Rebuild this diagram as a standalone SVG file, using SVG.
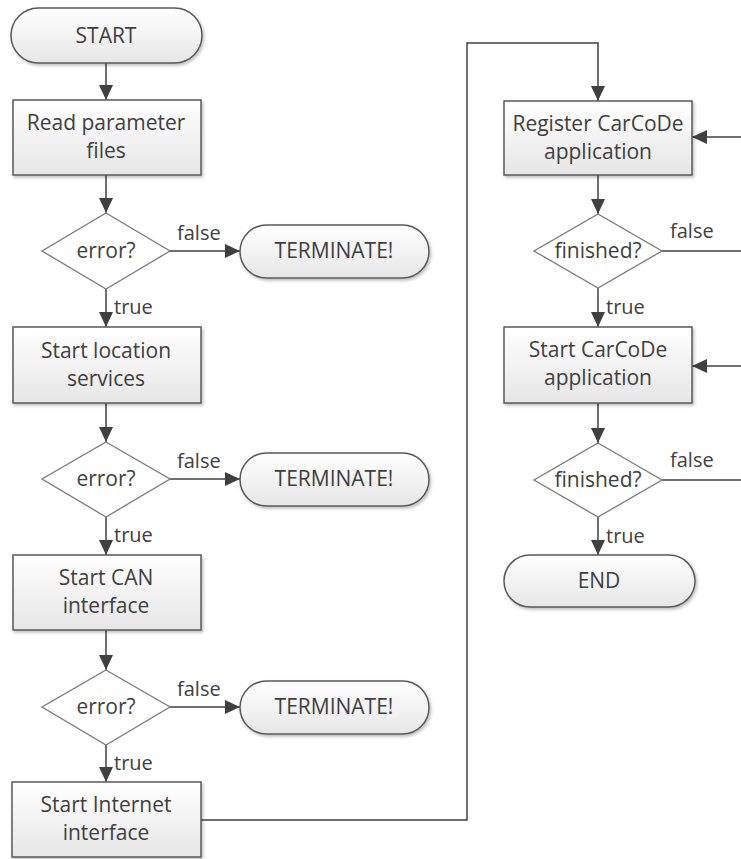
<svg xmlns="http://www.w3.org/2000/svg" width="741" height="859" viewBox="0 0 741 859">
<defs>
<linearGradient id="g" x1="0" y1="0" x2="0" y2="1">
<stop offset="0" stop-color="#ffffff"/>
<stop offset="1" stop-color="#e6e6e6"/>
</linearGradient>
<filter id="sh" x="-10%" y="-10%" width="130%" height="140%">
<feDropShadow dx="1.5" dy="2" stdDeviation="1.5" flood-color="#000" flood-opacity="0.25"/>
</filter>
<marker id="ah" markerUnits="userSpaceOnUse" markerWidth="16" markerHeight="14" refX="15" refY="7" orient="auto">
<path d="M0,0 L15,7 L0,14 z" fill="#404040"/>
</marker>
</defs>
<style>
.shape{fill:url(#g);stroke:#595959;stroke-width:1.5;filter:url(#sh)}
.dia{fill:#ffffff;stroke:#7a7a7a;stroke-width:1.3}
.t{font-family:"Open Sans","Noto Sans",sans-serif;font-size:21px;fill:#404040;text-anchor:middle}
.l{font-family:"Open Sans","Noto Sans",sans-serif;font-size:20px;fill:#404040}
.c{fill:none;stroke:#404040;stroke-width:1.5}
.ca{fill:none;stroke:#404040;stroke-width:1.5;marker-end:url(#ah)}
</style>
<rect width="741" height="859" fill="#ffffff"/>

<g id="connectors">
<path class="ca" d="M106,63 L106,100"/>
<path class="ca" d="M106,175 L106,213"/>
<path class="ca" d="M170,251 L240,251"/>
<path class="ca" d="M106,289 L106,327"/>
<path class="ca" d="M106,403 L106,442"/>
<path class="ca" d="M170,479 L240,479"/>
<path class="ca" d="M106,517 L106,555"/>
<path class="ca" d="M106,630 L106,670"/>
<path class="ca" d="M170,707 L240,707"/>
<path class="ca" d="M106,745 L106,782"/>
<path class="ca" d="M201,820 L467,820 L467,43 L598,43 L598,101"/>
<path class="ca" d="M741,137 L692,137"/>
<path class="ca" d="M598,175 L598,214"/>
<path class="c" d="M662,251 L741,251"/>
<path class="ca" d="M598,288 L598,327"/>
<path class="ca" d="M741,366 L692,366"/>
<path class="ca" d="M598,403 L598,443"/>
<path class="c" d="M662,480 L741,480"/>
<path class="ca" d="M598,517 L598,555"/>
<text class="l" x="177" y="240">false</text>
<text class="l" x="114" y="314">true</text>
<text class="l" x="177" y="468">false</text>
<text class="l" x="114" y="542">true</text>
<text class="l" x="177" y="696">false</text>
<text class="l" x="114" y="770">true</text>
<text class="l" x="670" y="238">false</text>
<text class="l" x="606" y="314">true</text>
<text class="l" x="670" y="467">false</text>
<text class="l" x="606" y="543">true</text>
</g>

<g id="start">
<rect class="shape" x="11" y="8" width="191" height="55" rx="27.5"/>
<text class="t" x="106" y="43">START</text>
</g>
<g id="read-params">
<rect class="shape" x="13" y="100" width="188" height="75"/>
<text class="t" x="106" y="130">Read parameter</text>
<text class="t" x="106" y="158">files</text>
</g>
<g id="dec1">
<polygon class="dia" points="106,213 170,251 106,289 42,251"/>
<text class="t" x="106" y="258">error?</text>
</g>
<g id="term1">
<rect class="shape" x="240" y="225" width="189" height="53" rx="26.5"/>
<text class="t" x="334" y="258">TERMINATE!</text>
</g>
<g id="location">
<rect class="shape" x="13" y="327" width="188" height="76"/>
<text class="t" x="106" y="358">Start location</text>
<text class="t" x="106" y="386">services</text>
</g>
<g id="dec2">
<polygon class="dia" points="106,442 170,479 106,517 42,479"/>
<text class="t" x="106" y="486">error?</text>
</g>
<g id="term2">
<rect class="shape" x="240" y="453" width="189" height="53" rx="26.5"/>
<text class="t" x="334" y="486">TERMINATE!</text>
</g>
<g id="can">
<rect class="shape" x="13" y="555" width="188" height="75"/>
<text class="t" x="106" y="585">Start CAN</text>
<text class="t" x="106" y="613">interface</text>
</g>
<g id="dec3">
<polygon class="dia" points="106,670 170,707 106,745 42,707"/>
<text class="t" x="106" y="714">error?</text>
</g>
<g id="term3">
<rect class="shape" x="240" y="681" width="189" height="53" rx="26.5"/>
<text class="t" x="334" y="714">TERMINATE!</text>
</g>
<g id="internet">
<rect class="shape" x="12" y="782" width="189" height="75"/>
<text class="t" x="106" y="812">Start Internet</text>
<text class="t" x="106" y="840">interface</text>
</g>
<g id="register">
<rect class="shape" x="504" y="101" width="188" height="74"/>
<text class="t" x="598" y="131">Register CarCoDe</text>
<text class="t" x="598" y="159">application</text>
</g>
<g id="dec4">
<polygon class="dia" points="598,214 662,251 598,288 534,251"/>
<text class="t" x="598" y="258">finished?</text>
</g>
<g id="startapp">
<rect class="shape" x="504" y="327" width="188" height="76"/>
<text class="t" x="598" y="357">Start CarCoDe</text>
<text class="t" x="598" y="385">application</text>
</g>
<g id="dec5">
<polygon class="dia" points="598,443 662,480 598,517 534,480"/>
<text class="t" x="598" y="487">finished?</text>
</g>
<g id="end">
<rect class="shape" x="504" y="555" width="191" height="52" rx="26"/>
<text class="t" x="599" y="588">END</text>
</g>
</svg>
